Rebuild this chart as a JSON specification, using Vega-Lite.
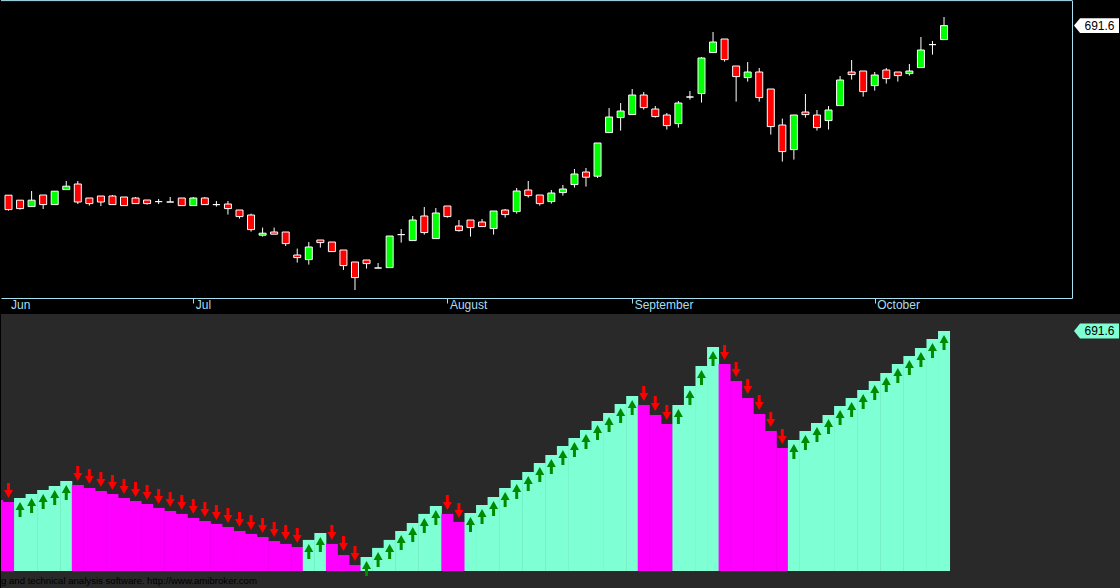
{
  "$schema": "https://vega.github.io/schema/vega-lite/v6.json",
  "background": "#000000",
  "padding": 0,
  "bounds": "flush",
  "spacing": 16,
  "config": {"view": {"stroke": null}, "font": "Liberation Sans", "scale": {"continuousPadding": 0}},
  "datasets": {
    "candles": [
      {"i": -1, "o": 606.9, "h": 606.9, "l": 599.9, "c": 599.9},
      {"i": 0, "o": 606.8, "h": 606.8, "l": 599.1, "c": 599.6},
      {"i": 1, "o": 604.3, "h": 604.3, "l": 599.6, "c": 600.1},
      {"i": 2, "o": 601.1, "h": 608.9, "l": 601.1, "c": 604.3},
      {"i": 3, "o": 606.9, "h": 606.9, "l": 599.9, "c": 602.1},
      {"i": 4, "o": 602.1, "h": 608.8, "l": 602.1, "c": 608.8},
      {"i": 5, "o": 609.6, "h": 613.9, "l": 609.6, "c": 611.3},
      {"i": 6, "o": 612.4, "h": 613.9, "l": 602.4, "c": 603.4},
      {"i": 7, "o": 605.4, "h": 605.4, "l": 601.6, "c": 602.6},
      {"i": 8, "o": 606.4, "h": 606.4, "l": 601.4, "c": 603.4},
      {"i": 9, "o": 606.4, "h": 606.9, "l": 602.1, "c": 602.1},
      {"i": 10, "o": 605.9, "h": 605.9, "l": 601.6, "c": 601.6},
      {"i": 11, "o": 605.4, "h": 605.9, "l": 602.6, "c": 602.6},
      {"i": 12, "o": 604.4, "h": 604.4, "l": 602.1, "c": 602.6},
      {"i": 13, "o": 603.6, "h": 604.9, "l": 602.4, "c": 603.6},
      {"i": 14, "o": 603.4, "h": 605.9, "l": 603.4, "c": 603.4},
      {"i": 15, "o": 605.4, "h": 605.4, "l": 601.6, "c": 601.6},
      {"i": 16, "o": 601.6, "h": 605.9, "l": 601.6, "c": 605.4},
      {"i": 17, "o": 605.4, "h": 605.9, "l": 602.1, "c": 602.1},
      {"i": 18, "o": 602.1, "h": 603.9, "l": 601.1, "c": 602.1},
      {"i": 19, "o": 602.4, "h": 603.9, "l": 597.1, "c": 600.1},
      {"i": 20, "o": 599.4, "h": 599.4, "l": 595.1, "c": 596.1},
      {"i": 21, "o": 596.9, "h": 597.6, "l": 588.6, "c": 589.6},
      {"i": 22, "o": 586.8, "h": 590.6, "l": 586.1, "c": 587.8},
      {"i": 23, "o": 588.4, "h": 590.6, "l": 587.3, "c": 587.3},
      {"i": 24, "o": 588.4, "h": 588.4, "l": 581.4, "c": 582.6},
      {"i": 25, "o": 576.9, "h": 580.1, "l": 573.1, "c": 575.6},
      {"i": 26, "o": 574.6, "h": 583.4, "l": 572.1, "c": 580.9},
      {"i": 27, "o": 584.4, "h": 584.4, "l": 580.6, "c": 583.1},
      {"i": 28, "o": 583.4, "h": 583.4, "l": 578.6, "c": 578.6},
      {"i": 29, "o": 579.4, "h": 579.4, "l": 569.4, "c": 571.6},
      {"i": 30, "o": 573.4, "h": 573.4, "l": 559.4, "c": 565.6},
      {"i": 31, "o": 574.4, "h": 574.4, "l": 570.1, "c": 572.6},
      {"i": 32, "o": 570.4, "h": 572.9, "l": 570.4, "c": 570.4},
      {"i": 33, "o": 570.6, "h": 586.4, "l": 570.6, "c": 586.4},
      {"i": 34, "o": 587.1, "h": 589.9, "l": 583.1, "c": 587.1},
      {"i": 35, "o": 584.1, "h": 596.4, "l": 584.1, "c": 594.4},
      {"i": 36, "o": 596.4, "h": 600.9, "l": 587.1, "c": 588.1},
      {"i": 37, "o": 585.1, "h": 600.4, "l": 585.1, "c": 597.9},
      {"i": 38, "o": 601.4, "h": 601.4, "l": 595.6, "c": 596.1},
      {"i": 39, "o": 591.4, "h": 594.4, "l": 588.6, "c": 589.1},
      {"i": 40, "o": 594.4, "h": 594.4, "l": 586.1, "c": 590.6},
      {"i": 41, "o": 593.4, "h": 594.9, "l": 591.1, "c": 591.1},
      {"i": 42, "o": 590.1, "h": 598.9, "l": 587.1, "c": 598.9},
      {"i": 43, "o": 599.4, "h": 599.9, "l": 595.6, "c": 597.1},
      {"i": 44, "o": 598.6, "h": 610.4, "l": 597.6, "c": 608.9},
      {"i": 45, "o": 609.4, "h": 613.9, "l": 605.6, "c": 606.6},
      {"i": 46, "o": 606.9, "h": 606.9, "l": 601.6, "c": 602.6},
      {"i": 47, "o": 603.6, "h": 609.4, "l": 602.6, "c": 607.9},
      {"i": 48, "o": 608.1, "h": 611.9, "l": 606.6, "c": 609.9},
      {"i": 49, "o": 612.1, "h": 619.9, "l": 610.6, "c": 617.4},
      {"i": 50, "o": 618.4, "h": 620.4, "l": 611.1, "c": 615.8},
      {"i": 51, "o": 616.3, "h": 632.9, "l": 615.4, "c": 632.9},
      {"i": 52, "o": 638.1, "h": 650.4, "l": 638.1, "c": 645.9},
      {"i": 53, "o": 645.6, "h": 652.9, "l": 639.1, "c": 648.9},
      {"i": 54, "o": 647.1, "h": 659.9, "l": 647.1, "c": 656.9},
      {"i": 55, "o": 656.9, "h": 658.4, "l": 649.6, "c": 650.6},
      {"i": 56, "o": 649.9, "h": 651.4, "l": 645.6, "c": 646.1},
      {"i": 57, "o": 646.9, "h": 647.9, "l": 639.6, "c": 641.6},
      {"i": 58, "o": 642.6, "h": 653.9, "l": 640.6, "c": 652.9},
      {"i": 59, "o": 655.9, "h": 658.9, "l": 654.6, "c": 655.9},
      {"i": 60, "o": 657.6, "h": 675.9, "l": 653.1, "c": 675.4},
      {"i": 61, "o": 678.1, "h": 688.4, "l": 678.1, "c": 683.4},
      {"i": 62, "o": 684.9, "h": 684.9, "l": 673.6, "c": 674.6},
      {"i": 63, "o": 671.4, "h": 671.4, "l": 653.6, "c": 666.1},
      {"i": 64, "o": 665.6, "h": 673.4, "l": 663.6, "c": 668.4},
      {"i": 65, "o": 668.4, "h": 670.4, "l": 653.6, "c": 655.6},
      {"i": 66, "o": 659.9, "h": 659.9, "l": 637.1, "c": 641.1},
      {"i": 67, "o": 641.9, "h": 645.1, "l": 623.6, "c": 628.6},
      {"i": 68, "o": 629.6, "h": 646.9, "l": 624.6, "c": 646.9},
      {"i": 69, "o": 648.4, "h": 657.4, "l": 645.6, "c": 647.1},
      {"i": 70, "o": 646.9, "h": 649.4, "l": 639.1, "c": 640.6},
      {"i": 71, "o": 644.1, "h": 651.4, "l": 639.6, "c": 649.4},
      {"i": 72, "o": 651.6, "h": 666.4, "l": 651.6, "c": 664.4},
      {"i": 73, "o": 668.4, "h": 674.4, "l": 664.6, "c": 667.1},
      {"i": 74, "o": 668.9, "h": 668.9, "l": 656.1, "c": 658.6},
      {"i": 75, "o": 661.6, "h": 668.4, "l": 659.1, "c": 666.9},
      {"i": 76, "o": 669.4, "h": 670.4, "l": 662.6, "c": 665.1},
      {"i": 77, "o": 668.4, "h": 668.4, "l": 663.6, "c": 666.6},
      {"i": 78, "o": 667.6, "h": 672.4, "l": 666.6, "c": 668.9},
      {"i": 79, "o": 670.6, "h": 685.9, "l": 670.6, "c": 679.4},
      {"i": 80, "o": 682.1, "h": 683.9, "l": 677.1, "c": 682.1},
      {"i": 81, "o": 684.6, "h": 695.9, "l": 684.6, "c": 691.6}
    ],
    "trend": [
      {"i": -1, "v": 598.7, "t": "down"}, {"i": 0, "v": 597.6, "t": "down"},
      {"i": 1, "v": 599.8, "t": "up"}, {"i": 2, "v": 602.0, "t": "up"},
      {"i": 3, "v": 604.2, "t": "up"}, {"i": 4, "v": 606.4, "t": "up"},
      {"i": 5, "v": 609.1, "t": "up"}, {"i": 6, "v": 606.9, "t": "down"},
      {"i": 7, "v": 605.3, "t": "down"}, {"i": 8, "v": 603.6, "t": "down"},
      {"i": 9, "v": 602.0, "t": "down"}, {"i": 10, "v": 599.8, "t": "down"},
      {"i": 11, "v": 598.1, "t": "down"}, {"i": 12, "v": 596.5, "t": "down"},
      {"i": 13, "v": 594.3, "t": "down"}, {"i": 14, "v": 592.6, "t": "down"},
      {"i": 15, "v": 591.0, "t": "down"}, {"i": 16, "v": 588.8, "t": "down"},
      {"i": 17, "v": 587.1, "t": "down"}, {"i": 18, "v": 585.5, "t": "down"},
      {"i": 19, "v": 583.8, "t": "down"}, {"i": 20, "v": 581.6, "t": "down"},
      {"i": 21, "v": 580.0, "t": "down"}, {"i": 22, "v": 578.3, "t": "down"},
      {"i": 23, "v": 576.1, "t": "down"}, {"i": 24, "v": 574.5, "t": "down"},
      {"i": 25, "v": 572.8, "t": "down"}, {"i": 26, "v": 576.7, "t": "up"},
      {"i": 27, "v": 580.5, "t": "up"}, {"i": 28, "v": 574.5, "t": "down"},
      {"i": 29, "v": 568.4, "t": "down"}, {"i": 30, "v": 562.9, "t": "down"},
      {"i": 31, "v": 567.3, "t": "up"}, {"i": 32, "v": 572.3, "t": "up"},
      {"i": 33, "v": 576.7, "t": "up"}, {"i": 34, "v": 581.6, "t": "up"},
      {"i": 35, "v": 586.0, "t": "up"}, {"i": 36, "v": 591.0, "t": "up"},
      {"i": 37, "v": 595.4, "t": "up"}, {"i": 38, "v": 591.0, "t": "down"},
      {"i": 39, "v": 586.6, "t": "down"}, {"i": 40, "v": 591.5, "t": "up"},
      {"i": 41, "v": 595.9, "t": "up"}, {"i": 42, "v": 600.3, "t": "up"},
      {"i": 43, "v": 605.3, "t": "up"}, {"i": 44, "v": 609.7, "t": "up"},
      {"i": 45, "v": 614.1, "t": "up"}, {"i": 46, "v": 619.0, "t": "up"},
      {"i": 47, "v": 623.4, "t": "up"}, {"i": 48, "v": 628.4, "t": "up"},
      {"i": 49, "v": 632.8, "t": "up"}, {"i": 50, "v": 637.2, "t": "up"},
      {"i": 51, "v": 642.1, "t": "up"}, {"i": 52, "v": 646.5, "t": "up"},
      {"i": 53, "v": 651.5, "t": "up"}, {"i": 54, "v": 655.9, "t": "up"},
      {"i": 55, "v": 650.9, "t": "down"}, {"i": 56, "v": 645.4, "t": "down"},
      {"i": 57, "v": 640.5, "t": "down"}, {"i": 58, "v": 650.9, "t": "up"},
      {"i": 59, "v": 661.4, "t": "up"}, {"i": 60, "v": 672.4, "t": "up"},
      {"i": 61, "v": 682.8, "t": "up"}, {"i": 62, "v": 673.5, "t": "down"},
      {"i": 63, "v": 664.1, "t": "down"}, {"i": 64, "v": 654.8, "t": "down"},
      {"i": 65, "v": 646.0, "t": "down"}, {"i": 66, "v": 636.6, "t": "down"},
      {"i": 67, "v": 627.3, "t": "down"}, {"i": 68, "v": 631.7, "t": "up"},
      {"i": 69, "v": 636.6, "t": "up"}, {"i": 70, "v": 641.0, "t": "up"},
      {"i": 71, "v": 645.4, "t": "up"}, {"i": 72, "v": 650.4, "t": "up"},
      {"i": 73, "v": 654.8, "t": "up"}, {"i": 74, "v": 659.2, "t": "up"},
      {"i": 75, "v": 664.1, "t": "up"}, {"i": 76, "v": 668.5, "t": "up"},
      {"i": 77, "v": 673.5, "t": "up"}, {"i": 78, "v": 677.9, "t": "up"},
      {"i": 79, "v": 682.3, "t": "up"}, {"i": 80, "v": 687.2, "t": "up"},
      {"i": 81, "v": 691.6, "t": "up"}
    ]
  },
  "vconcat": [
    {
      "width": 1071,
      "height": 298,
      "layer": [
        {
          "data": {"name": "candles"},
          "mark": {"type": "rule", "color": "#ffffff", "strokeWidth": 1, "clip": true},
          "encoding": {
            "x": {
              "field": "i", "type": "quantitative",
              "scale": {"domain": [-0.65, 92.08], "nice": false, "zero": false, "padding": 0},
              "axis": {
                "orient": "bottom", "title": null, "grid": false,
                "values": [0, 16, 38, 54, 75],
                "labelExpr": "datum.value == 0 ? 'Jun' : datum.value == 16 ? 'Jul' : datum.value == 38 ? 'August' : datum.value == 54 ? 'September' : 'October'",
                "labelAlign": "left", "labelBaseline": "top", "labelPadding": -4, "labelOffset": 2,
                "labelFlush": false, "labelOverlap": false,
                "labelColor": "#a8dff0", "labelFont": "Liberation Sans", "labelFontSize": 12,
                "tickSize": 5, "tickColor": "#a8dff0",
                "tickOpacity": {"condition": {"test": "datum.value == 0", "value": 0}, "value": 1},
                "domainColor": "#a8dff0"
              }
            },
            "y": {
              "field": "l", "type": "quantitative",
              "scale": {"domain": [555.4, 704.4], "nice": false, "zero": false, "padding": 0},
              "axis": {"orient": "right", "title": null, "grid": false, "ticks": false, "labels": false, "domainColor": "#a8dff0"}
            },
            "y2": {"field": "h"}
          }
        },
        {
          "data": {"name": "candles"},
          "mark": {"type": "bar", "size": 7, "stroke": "#ffffff", "strokeWidth": 1, "clip": true},
          "encoding": {
            "x": {
              "field": "i", "type": "quantitative",
              "scale": {"domain": [-0.65, 92.08], "nice": false, "zero": false, "padding": 0},
              "axis": {
                "orient": "bottom", "title": null, "grid": false,
                "values": [0, 16, 38, 54, 75],
                "labelExpr": "datum.value == 0 ? 'Jun' : datum.value == 16 ? 'Jul' : datum.value == 38 ? 'August' : datum.value == 54 ? 'September' : 'October'",
                "labelAlign": "left", "labelBaseline": "top", "labelPadding": -4, "labelOffset": 2,
                "labelFlush": false, "labelOverlap": false,
                "labelColor": "#a8dff0", "labelFont": "Liberation Sans", "labelFontSize": 12,
                "tickSize": 5, "tickColor": "#a8dff0",
                "tickOpacity": {"condition": {"test": "datum.value == 0", "value": 0}, "value": 1},
                "domainColor": "#a8dff0"
              }
            },
            "y": {
              "field": "o", "type": "quantitative",
              "scale": {"domain": [555.4, 704.4], "nice": false, "zero": false, "padding": 0},
              "axis": {"orient": "right", "title": null, "grid": false, "ticks": false, "labels": false, "domainColor": "#a8dff0"}
            },
            "y2": {"field": "c"},
            "color": {"condition": {"test": "datum.c > datum.o", "value": "#00ff00"}, "value": "#ff0000"}
          }
        },
        {
          "data": {"values": [{}]},
          "mark": {"type": "rule", "color": "#a8dff0", "strokeWidth": 1},
          "encoding": {
            "y": {
              "datum": 704.1, "type": "quantitative",
              "scale": {"domain": [555.4, 704.4], "nice": false, "zero": false, "padding": 0},
              "axis": {"orient": "right", "title": null, "grid": false, "ticks": false, "labels": false, "domainColor": "#a8dff0"}
            }
          }
        },
        {
          "data": {"name": "candles"},
          "transform": [{"filter": {"field": "i", "equal": 81}}],
          "mark": {"type": "point", "shape": "M-1,0L-0.73,-0.33L1,-0.33L1,0.33L-0.73,0.33Z", "size": 2025, "filled": true, "opacity": 1, "color": "#ffffff"},
          "encoding": {
            "x": {
              "datum": 94.2, "type": "quantitative",
              "scale": {"domain": [-0.65, 92.08], "nice": false, "zero": false, "padding": 0},
              "axis": {
                "orient": "bottom", "title": null, "grid": false,
                "values": [0, 16, 38, 54, 75],
                "labelExpr": "datum.value == 0 ? 'Jun' : datum.value == 16 ? 'Jul' : datum.value == 38 ? 'August' : datum.value == 54 ? 'September' : 'October'",
                "labelAlign": "left", "labelBaseline": "top", "labelPadding": -4, "labelOffset": 2,
                "labelFlush": false, "labelOverlap": false,
                "labelColor": "#a8dff0", "labelFont": "Liberation Sans", "labelFontSize": 12,
                "tickSize": 5, "tickColor": "#a8dff0",
                "tickOpacity": {"condition": {"test": "datum.value == 0", "value": 0}, "value": 1},
                "domainColor": "#a8dff0"
              }
            },
            "y": {
              "field": "c", "type": "quantitative",
              "scale": {"domain": [555.4, 704.4], "nice": false, "zero": false, "padding": 0},
              "axis": {"orient": "right", "title": null, "grid": false, "ticks": false, "labels": false, "domainColor": "#a8dff0"}
            }
          }
        },
        {
          "data": {"name": "candles"},
          "transform": [{"filter": {"field": "i", "equal": 81}}],
          "mark": {"type": "text", "dx": 3, "align": "center", "baseline": "middle", "fontSize": 12, "font": "Liberation Sans", "color": "#000000"},
          "encoding": {
            "x": {
              "datum": 94.2, "type": "quantitative",
              "scale": {"domain": [-0.65, 92.08], "nice": false, "zero": false, "padding": 0},
              "axis": {
                "orient": "bottom", "title": null, "grid": false,
                "values": [0, 16, 38, 54, 75],
                "labelExpr": "datum.value == 0 ? 'Jun' : datum.value == 16 ? 'Jul' : datum.value == 38 ? 'August' : datum.value == 54 ? 'September' : 'October'",
                "labelAlign": "left", "labelBaseline": "top", "labelPadding": -4, "labelOffset": 2,
                "labelFlush": false, "labelOverlap": false,
                "labelColor": "#a8dff0", "labelFont": "Liberation Sans", "labelFontSize": 12,
                "tickSize": 5, "tickColor": "#a8dff0",
                "tickOpacity": {"condition": {"test": "datum.value == 0", "value": 0}, "value": 1},
                "domainColor": "#a8dff0"
              }
            },
            "y": {
              "field": "c", "type": "quantitative",
              "scale": {"domain": [555.4, 704.4], "nice": false, "zero": false, "padding": 0},
              "axis": {"orient": "right", "title": null, "grid": false, "ticks": false, "labels": false, "domainColor": "#a8dff0"}
            },
            "text": {"field": "c", "type": "quantitative", "format": ".1f"}
          }
        }
      ]
    },
    {
      "width": 1071,
      "height": 257,
      "layer": [
        {
          "data": {"values": [{}]},
          "mark": {"type": "rect", "color": "#292929"},
          "encoding": {
            "x": {
              "datum": -0.65, "type": "quantitative",
              "scale": {"domain": [-0.65, 92.08], "nice": false, "zero": false, "padding": 0},
              "axis": {"orient": "top", "title": null, "grid": false, "ticks": false, "labels": false, "domainColor": "#a8dff0"}
            },
            "x2": {"datum": 96.3},
            "y": {
              "datum": 700.95, "type": "quantitative",
              "scale": {"domain": [559.6, 700.95], "nice": false, "zero": false, "padding": 0},
              "axis": {"orient": "right", "title": null, "grid": false, "ticks": false, "labels": false, "domainColor": "#a8dff0"}
            },
            "y2": {"datum": 550.3}
          }
        },
        {
          "data": {"name": "trend"},
          "mark": {"type": "bar", "size": 12, "clip": true},
          "encoding": {
            "x": {
              "field": "i", "type": "quantitative",
              "scale": {"domain": [-0.65, 92.08], "nice": false, "zero": false, "padding": 0},
              "axis": {"orient": "top", "title": null, "grid": false, "ticks": false, "labels": false, "domainColor": "#a8dff0"}
            },
            "y": {
              "field": "v", "type": "quantitative",
              "scale": {"domain": [559.6, 700.95], "nice": false, "zero": false, "padding": 0},
              "axis": {"orient": "right", "title": null, "grid": false, "ticks": false, "labels": false, "domainColor": "#a8dff0"}
            },
            "y2": {"datum": 559.6},
            "color": {"field": "t", "type": "nominal", "scale": {"domain": ["up", "down"], "range": ["#7fffd4", "#ff00ff"]}, "legend": null}
          }
        },
        {
          "data": {"name": "trend"},
          "transform": [{"filter": {"field": "t", "equal": "up"}}],
          "mark": {"type": "point", "shape": "M0,-1L0.6,0.07L0.2,0.07L0.2,1L-0.2,1L-0.2,0.07L-0.6,0.07Z", "size": 225, "filled": true, "opacity": 1, "color": "#008a00", "yOffset": 11.5},
          "encoding": {
            "x": {
              "field": "i", "type": "quantitative",
              "scale": {"domain": [-0.65, 92.08], "nice": false, "zero": false, "padding": 0},
              "axis": {"orient": "top", "title": null, "grid": false, "ticks": false, "labels": false, "domainColor": "#a8dff0"}
            },
            "y": {
              "field": "v", "type": "quantitative",
              "scale": {"domain": [559.6, 700.95], "nice": false, "zero": false, "padding": 0},
              "axis": {"orient": "right", "title": null, "grid": false, "ticks": false, "labels": false, "domainColor": "#a8dff0"}
            }
          }
        },
        {
          "data": {"name": "trend"},
          "transform": [{"filter": {"field": "t", "equal": "down"}}],
          "mark": {"type": "point", "shape": "M0,1L0.6,-0.07L0.2,-0.07L0.2,-1L-0.2,-1L-0.2,-0.07L-0.6,-0.07Z", "size": 225, "filled": true, "opacity": 1, "color": "#ff0000", "yOffset": -11.5, "clip": true},
          "encoding": {
            "x": {
              "field": "i", "type": "quantitative",
              "scale": {"domain": [-0.65, 92.08], "nice": false, "zero": false, "padding": 0},
              "axis": {"orient": "top", "title": null, "grid": false, "ticks": false, "labels": false, "domainColor": "#a8dff0"}
            },
            "y": {
              "field": "v", "type": "quantitative",
              "scale": {"domain": [559.6, 700.95], "nice": false, "zero": false, "padding": 0},
              "axis": {"orient": "right", "title": null, "grid": false, "ticks": false, "labels": false, "domainColor": "#a8dff0"}
            }
          }
        },
        {
          "data": {"name": "trend"},
          "transform": [{"filter": {"field": "i", "equal": 81}}],
          "mark": {"type": "point", "shape": "M-1,0L-0.73,-0.33L1,-0.33L1,0.33L-0.73,0.33Z", "size": 2025, "filled": true, "opacity": 1, "color": "#7fffd4"},
          "encoding": {
            "x": {
              "datum": 94.2, "type": "quantitative",
              "scale": {"domain": [-0.65, 92.08], "nice": false, "zero": false, "padding": 0},
              "axis": {"orient": "top", "title": null, "grid": false, "ticks": false, "labels": false, "domainColor": "#a8dff0"}
            },
            "y": {
              "field": "v", "type": "quantitative",
              "scale": {"domain": [559.6, 700.95], "nice": false, "zero": false, "padding": 0},
              "axis": {"orient": "right", "title": null, "grid": false, "ticks": false, "labels": false, "domainColor": "#a8dff0"}
            }
          }
        },
        {
          "data": {"name": "trend"},
          "transform": [{"filter": {"field": "i", "equal": 81}}],
          "mark": {"type": "text", "dx": 3, "align": "center", "baseline": "middle", "fontSize": 12, "font": "Liberation Sans", "color": "#000000"},
          "encoding": {
            "x": {
              "datum": 94.2, "type": "quantitative",
              "scale": {"domain": [-0.65, 92.08], "nice": false, "zero": false, "padding": 0},
              "axis": {"orient": "top", "title": null, "grid": false, "ticks": false, "labels": false, "domainColor": "#a8dff0"}
            },
            "y": {
              "field": "v", "type": "quantitative",
              "scale": {"domain": [559.6, 700.95], "nice": false, "zero": false, "padding": 0},
              "axis": {"orient": "right", "title": null, "grid": false, "ticks": false, "labels": false, "domainColor": "#a8dff0"}
            },
            "text": {"field": "v", "type": "quantitative", "format": ".1f"}
          }
        },
        {
          "data": {"values": [{}]},
          "mark": {"type": "text", "text": "g and technical analysis software. http://www.amibroker.com", "align": "left", "baseline": "middle", "fontSize": 9.6, "font": "Liberation Sans", "color": "#000000"},
          "encoding": {
            "x": {
              "datum": -0.65, "type": "quantitative",
              "scale": {"domain": [-0.65, 92.08], "nice": false, "zero": false, "padding": 0},
              "axis": {"orient": "top", "title": null, "grid": false, "ticks": false, "labels": false, "domainColor": "#a8dff0"}
            },
            "y": {
              "datum": 554.1, "type": "quantitative",
              "scale": {"domain": [559.6, 700.95], "nice": false, "zero": false, "padding": 0},
              "axis": {"orient": "right", "title": null, "grid": false, "ticks": false, "labels": false, "domainColor": "#a8dff0"}
            }
          }
        }
      ]
    }
  ]
}
